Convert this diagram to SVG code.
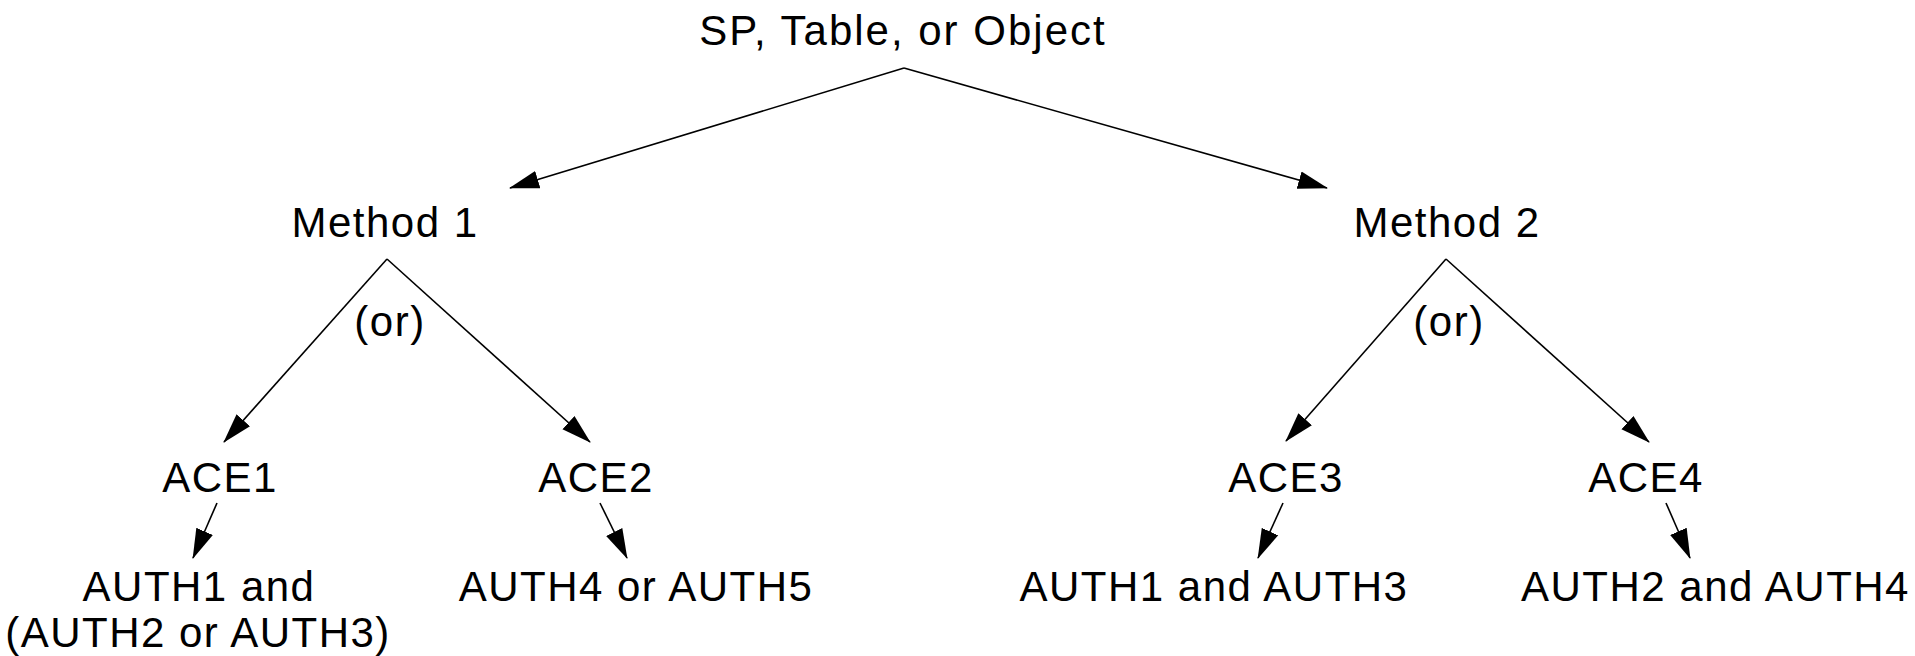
<svg xmlns="http://www.w3.org/2000/svg" width="1915" height="656" viewBox="0 0 1915 656">
<style>
text{font-family:"Liberation Sans",Arial,sans-serif;font-size:42px;letter-spacing:1.5px;fill:#000;text-anchor:middle}
.c line{stroke:#000;stroke-width:1.6;fill:none;marker-end:url(#ah)}
</style>
<defs>
<marker id="ah" markerUnits="userSpaceOnUse" markerWidth="30" markerHeight="20" viewBox="0 0 30 20" refX="29" refY="10" orient="auto">
<path d="M0,1 L30,10 L0,19 z" fill="#000"/>
</marker>
</defs>
<rect width="1915" height="656" fill="#fff"/>
<g id="root"><text x="903" y="45" style="letter-spacing:2px">SP, Table, or Object</text></g>
<g id="method1"><text x="385" y="237">Method 1</text></g>
<g id="method2"><text x="1447" y="237">Method 2</text></g>
<g id="or1"><text x="390" y="336">(or)</text></g>
<g id="or2"><text x="1449" y="336">(or)</text></g>
<g id="ace1"><text x="220" y="492">ACE1</text></g>
<g id="ace2"><text x="596" y="492">ACE2</text></g>
<g id="ace3"><text x="1286" y="492">ACE3</text></g>
<g id="ace4"><text x="1646" y="492">ACE4</text></g>
<g id="auth-a"><text x="199" y="601">AUTH1 and</text><text x="198" y="647">(AUTH2 or AUTH3)</text></g>
<g id="auth-b"><text x="636" y="601">AUTH4 or AUTH5</text></g>
<g id="auth-c"><text x="1214" y="601">AUTH1 and AUTH3</text></g>
<g id="auth-d"><text x="1521" y="601" style="text-anchor:start">AUTH2 and AUTH4</text></g>
<g class="c" id="connectors">
<line x1="904" y1="68" x2="510" y2="188"/>
<line x1="904" y1="68" x2="1327" y2="188"/>
<line x1="387" y1="259" x2="224" y2="442"/>
<line x1="387" y1="259" x2="590" y2="442"/>
<line x1="1446" y1="259" x2="1286" y2="441"/>
<line x1="1446" y1="259" x2="1649" y2="442"/>
<line x1="217" y1="503" x2="193" y2="558"/>
<line x1="600" y1="503" x2="627" y2="558"/>
<line x1="1283" y1="503" x2="1258" y2="558"/>
<line x1="1666" y1="503" x2="1690" y2="558"/>
</g>
</svg>
